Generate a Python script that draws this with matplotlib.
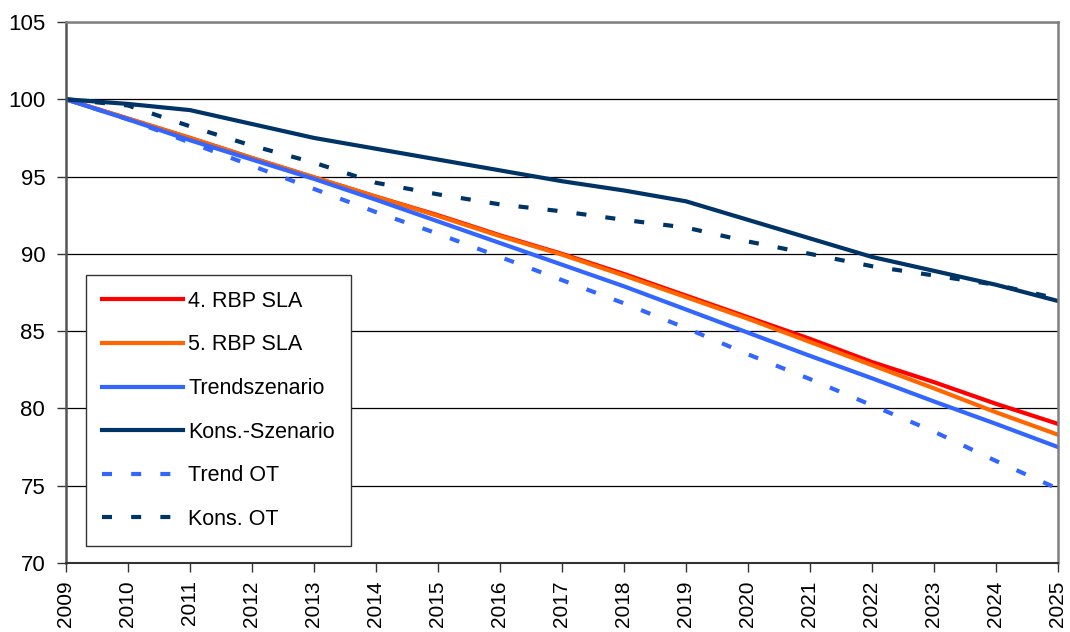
import matplotlib
matplotlib.use("Agg")
import matplotlib.pyplot as plt

# values (index, 2009 = 100)
years = list(range(2009, 2026))
rbp4_sla = [100, 98.75, 97.5, 96.2, 94.95, 93.7, 92.5, 91.2, 90.0, 88.7, 87.3, 85.9, 84.5, 83.0, 81.7, 80.3, 79.0]
rbp5_sla = [100, 98.75, 97.5, 96.2, 94.95, 93.7, 92.45, 91.15, 89.95, 88.6, 87.2, 85.8, 84.3, 82.8, 81.3, 79.75, 78.3]
trend_sz = [100, 98.7, 97.35, 96.1, 94.85, 93.5, 92.1, 90.7, 89.3, 87.9, 86.4, 84.9, 83.4, 81.95, 80.45, 79.0, 77.5]
kons_sz = [100, 99.7, 99.3, 98.4, 97.5, 96.8, 96.1, 95.4, 94.7, 94.1, 93.4, 92.2, 91.0, 89.8, 88.9, 88.0, 86.95]
trend_ot = [100, 98.7, 97.2, 95.7, 94.2, 92.7, 91.3, 89.8, 88.3, 86.8, 85.2, 83.5, 81.9, 80.2, 78.5, 76.6, 74.8]
kons_ot = [100, 99.6, 98.25, 97.0, 95.9, 94.6, 93.85, 93.2, 92.75, 92.2, 91.7, 90.8, 90.0, 89.2, 88.6, 88.0, 87.1]

labels = ["4. RBP SLA", "5. RBP SLA", "Trendszenario", "Kons.-Szenario", "Trend OT", "Kons. OT"]

plt.rcParams["font.family"] = ["Liberation Sans", "DejaVu Sans"]

fig = plt.figure(figsize=(10.7, 6.32), dpi=100)
ax = fig.add_axes([66 / 1070, 1 - 563 / 632, 992 / 1070, 541 / 632])

dash = (2.4, 4.6)
ax.plot(years, rbp4_sla, color="#FF0000", lw=3, label=labels[0])
ax.plot(years, rbp5_sla, color="#FF6600", lw=3, label=labels[1])
ax.plot(years, trend_sz, color="#3366FF", lw=3, label=labels[2])
ax.plot(years, kons_sz, color="#003366", lw=3, label=labels[3])
ax.plot(years, trend_ot, color="#3366FF", lw=3, dashes=dash, label=labels[4])
ax.plot(years, kons_ot, color="#003366", lw=3, dashes=dash, label=labels[5])

ax.set_xlim(2009, 2025)
ax.set_ylim(70, 105)
ax.set_xticks(years)
ax.set_yticks(range(70, 106, 5))
ax.set_xticklabels([str(y) for y in years], rotation=90, fontsize=15)
ax.set_yticklabels([str(v) for v in range(70, 106, 5)], fontsize=16)
ax.tick_params(axis="both", direction="out", length=6.5, width=1, color="#333333")
ax.tick_params(axis="y", pad=8.5)
ax.tick_params(axis="x", pad=6)

ax.yaxis.grid(True, color="black", lw=0.9)
ax.set_axisbelow(True)
for side in ["top", "right"]:
    ax.spines[side].set_color("#808080")
    ax.spines[side].set_linewidth(1.8)
ax.spines["left"].set_color("#555555")
ax.spines["left"].set_linewidth(1.8)
ax.spines["bottom"].set_color("#333333")
ax.spines["bottom"].set_linewidth(1.5)

leg = ax.legend(loc="lower left", bbox_to_anchor=(20 / 992, 17 / 541), borderaxespad=0,
                fontsize=15.5, labelspacing=1.05, handlelength=3.75, handletextpad=0.25,
                borderpad=0.75, fancybox=False, framealpha=1, edgecolor="#333333")
leg.get_frame().set_linewidth(1)

fig.savefig("out.png", dpi=100)
